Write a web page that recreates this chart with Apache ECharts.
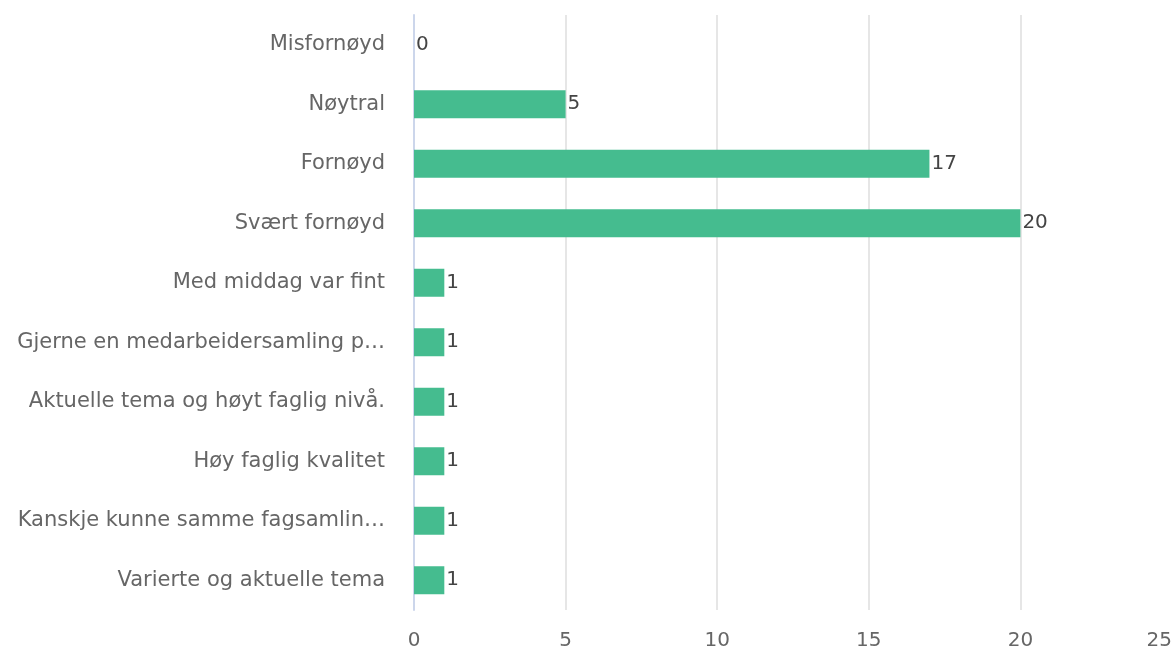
<!DOCTYPE html>
<html>
<head>
<meta charset="utf-8">
<script src="https://cdn.jsdelivr.net/npm/echarts@6/dist/echarts.min.js"></script>
<style>html,body{margin:0;padding:0;background:#fff}#c{width:1171px;height:648px}</style>
</head>
<body>
<div id="c"></div>
<script>
const categories = [
  "Misfornøyd",
  "Nøytral",
  "Fornøyd",
  "Svært fornøyd",
  "Med middag var fint",
  "Gjerne en medarbeidersamling p…",
  "Aktuelle tema og høyt faglig nivå.",
  "Høy faglig kvalitet",
  "Kanskje kunne samme fagsamlin…",
  "Varierte og aktuelle tema"
];
const values = [0, 5, 17, 20, 1, 1, 1, 1, 1, 1];
const xTicks = [0, 5, 10, 15, 20, 25];

const FONT = 'DejaVu Sans';
const chart = echarts.init(document.getElementById('c'));
chart.setOption({
  animation: false,
  textStyle: { fontFamily: FONT },
  grid: { left: 414, width: 758, top: 15, height: 595, containLabel: false, outerBoundsMode: 'none' },
  xAxis: {
    type: 'value',
    min: xTicks[0],
    max: xTicks[xTicks.length - 1],
    interval: 5,
    axisLine: { show: false },
    axisTick: { show: false },
    splitLine: { show: true, lineStyle: { color: '#e6e6e6', width: 2 } },
    axisLabel: { color: '#666', fontSize: 20, margin: 21, alignMaxLabel: 'right', fontFamily: FONT }
  },
  yAxis: {
    type: 'category',
    data: categories,
    inverse: true,
    axisLine: { show: true, lineStyle: { color: '#ccd6eb', width: 2 } },
    axisTick: { show: false },
    axisLabel: { color: '#666', fontSize: 21, margin: 29, fontFamily: FONT }
  },
  series: [{
    type: 'bar',
    data: values,
    barWidth: 28,
    itemStyle: { color: '#45bc8f' },
    label: { show: true, position: 'right', distance: 2, color: '#444', fontSize: 20, fontFamily: FONT }
  }]
});
</script>
</body>
</html>
